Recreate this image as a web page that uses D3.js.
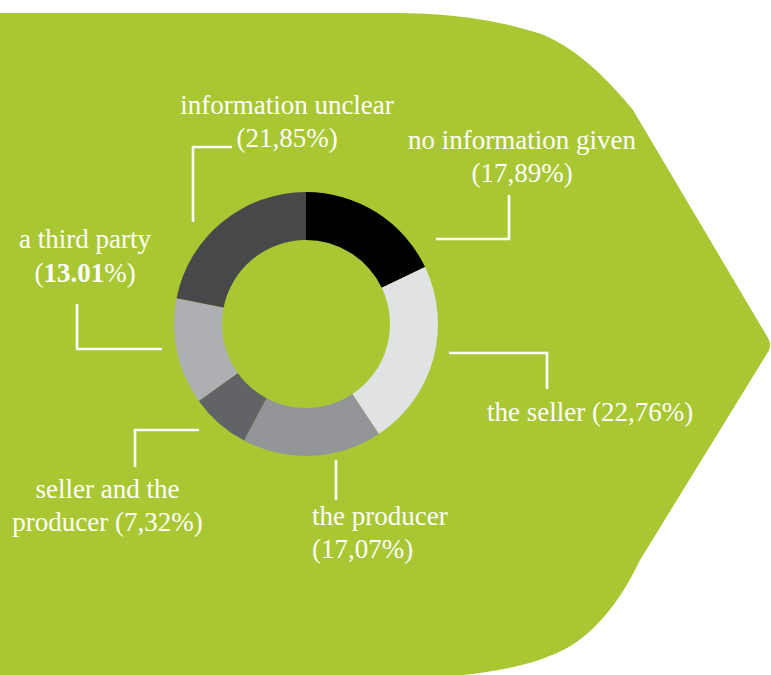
<!DOCTYPE html>
<html>
<head>
<meta charset="utf-8">
<script src="https://cdnjs.cloudflare.com/ajax/libs/d3/7.8.5/d3.min.js"></script>
<style>
  html, body { margin: 0; padding: 0; background: #ffffff; }
  svg { display: block; }
  text { font-family: "Liberation Serif", "Times New Roman", serif; font-size: 27px; fill: #ffffff; }
</style>
</head>
<body>
<svg id="chart" width="771" height="675"></svg>
<script>
// ---- data ----
const categories = ["no information given", "the seller", "the producer", "seller and the producer", "a third party", "information unclear"];
const values = [17.89, 22.76, 17.07, 7.32, 13.01, 21.85];
const valueLabels = ["17,89%", "22,76%", "17,07%", "7,32%", "13.01%", "21,85%"];
const colors = ["#000000", "#e1e2e3", "#939598", "#626366", "#aeafb2", "#48484a"];

// ---- layout (positions only) ----
const W = 771, H = 675;
const cx = 306, cy = 324, rOuter = 132, rInner = 84;

const svg = d3.select("#chart");

// background arrow shape
const bg = d3.path();
bg.moveTo(0, 13);
bg.lineTo(400, 13);
bg.bezierCurveTo(470, 14, 510, 24, 544, 35);
bg.bezierCurveTo(578, 50, 607, 78, 633, 110);
bg.lineTo(768, 338);
bg.quadraticCurveTo(772, 345, 768, 352);
bg.lineTo(640, 560);
bg.bezierCurveTo(620, 602, 592, 638, 557, 653);
bg.bezierCurveTo(530, 665, 495, 672, 463, 675);
bg.lineTo(0, 675);
bg.closePath();
svg.append("path").attr("d", bg.toString()).attr("fill", "#a8c732");

// donut
const pie = d3.pie().sort(null).value(d => d)(values);
const arc = d3.arc().innerRadius(rInner).outerRadius(rOuter);
svg.append("g").attr("transform", `translate(${cx},${cy})`)
  .selectAll("path").data(pie).join("path")
  .attr("d", arc)
  .attr("fill", (d, i) => colors[i]);

// label layout: lines of text and leader polylines
const labelLayout = [
  { lines: [["no information given"], ["(", "#", ")"]], x: 522, ys: [149, 182], anchor: "middle",
    leader: [[436, 239], [509, 239], [509, 195]] },
  { lines: [["the seller (", "#", ")"]], x: 487, ys: [421], anchor: "start",
    leader: [[449, 353], [547, 353], [547, 389]] },
  { lines: [["the producer"], ["(", "#", ")"]], x: 312, ys: [525, 558], anchor: "start",
    leader: [[336, 460], [336, 500]] },
  { lines: [["seller and the"], ["producer (", "#", ")"]], x: 107.5, ys: [498, 531], anchor: "middle",
    leader: [[199, 430], [135, 430], [135, 467]] },
  { lines: [["a third party"], ["(", "#b", ")"]], x: 85, ys: [248, 282], anchor: "middle",
    leader: [[77, 304], [77, 349], [162, 349]] },
  { lines: [["information unclear"], ["(", "#", ")"]], x: 287, ys: [114, 147], anchor: "middle",
    leader: [[193, 222], [193, 147], [232, 147]] }
];

const line = d3.line();
const labels = svg.append("g");
labelLayout.forEach((L, i) => {
  labels.append("path")
    .attr("d", line(L.leader))
    .attr("fill", "none")
    .attr("stroke", "#ffffff")
    .attr("stroke-width", 2.6);
  L.lines.forEach((parts, j) => {
    const t = labels.append("text")
      .attr("x", L.x).attr("y", L.ys[j])
      .attr("text-anchor", L.anchor);
    parts.forEach(p => {
      if (p === "#") t.append("tspan").text(valueLabels[i].replace("%", "") + "%");
      else if (p === "#b") {
        t.append("tspan").attr("font-weight", "bold").text(valueLabels[i].replace("%", ""));
        t.append("tspan").text("%");
      }
      else if (p === "the producer" || p === "the seller (" || p === "producer (" ) t.append("tspan").text(p);
      else t.append("tspan").text(p);
    });
  });
});
</script>
</body>
</html>
